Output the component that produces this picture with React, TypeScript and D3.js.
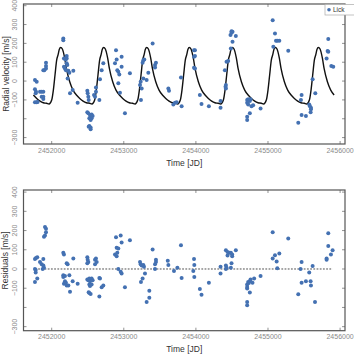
import React, { useEffect, useRef } from "react";
import * as d3 from "d3";

// radial velocities (Lick)
const rvTimes = [
  2451768, 2451792, 2451768, 2451782, 2451778, 2451768, 2451792, 2451805, 2451838, 2451861,
  2451884, 2451861, 2451884, 2451884, 2451921, 2451921, 2451921, 2451898, 2451884, 2452161,
  2452161, 2452170, 2452184, 2452194, 2452208, 2452170, 2452184, 2452198, 2452208, 2452217,
  2452231, 2452245, 2452208, 2452221, 2452254, 2452291, 2452300, 2452360, 2452494, 2452499,
  2452508, 2452513, 2452494, 2452508, 2452531, 2452540, 2452554, 2452568, 2452522, 2452540,
  2452554, 2452522, 2452540, 2452513, 2452540, 2452587, 2452601, 2452614, 2452614, 2452670,
  2452661, 2452693, 2452716, 2452878, 2452901, 2452892, 2452910, 2452924, 2452938, 2452924,
  2452947, 2452970, 2452970, 2453016, 2453085, 2453225, 2453234, 2453238, 2453248, 2453261,
  2453271, 2453284, 2453271, 2453317, 2453340, 2453400, 2453433, 2453446, 2453433, 2453618,
  2453627, 2453687, 2453710, 2453733, 2453802, 2453793, 2453974, 2453987, 2453974, 2453987,
  2453974, 2453987, 2454055, 2454078, 2454180, 2454342, 2454342, 2454402, 2454416, 2454416,
  2454411, 2454425, 2454448, 2454480, 2454494, 2454508, 2454494, 2454508, 2454485, 2454554,
  2454711, 2454725, 2454739, 2454748, 2454758, 2454711, 2454725, 2454711, 2454711, 2454748,
  2454771, 2454794, 2454897, 2455065, 2455097, 2455111, 2455129, 2455157, 2455074, 2455281,
  2455420, 2455466, 2455457, 2455466, 2455526, 2455572, 2455582, 2455596, 2455596, 2455591,
  2455619, 2455656, 2455813, 2455836, 2455827, 2455836, 2455878, 2455905,
];
const rvValues = [
  5, -4, -44, -57, -65, -113, -113, -111, -57, -57,
  -57, -83, -83, -95, 97, 80, 67, 58, 58, 226,
  217, 120, 120, 115, 120, 76, 67, 58, 94, 85,
  55, 44, 133, 14, -65, -48, 55, -115, -51, -65,
  -83, -101, -166, -171, -180, -189, -177, -186, -198, -207,
  -198, -239, -247, -242, -256, -74, -83, -57, -34, 9,
  -101, 58, 94, 94, 115, 164, 58, 49, 35, -12,
  -62, 129, 76, -171, 41, -21, -4, -101, -39, 97,
  111, 115, 14, 5, 44, 200, 85, 97, 72, -39,
  -51, -124, -115, -113, -133, 19, 164, 164, 129, 133,
  71, 67, -74, -122, -133, -142, -106, 58, -21, -39,
  -30, 102, 106, 244, 256, 262, 265, 209, 173, 239,
  -101, -97, -101, -106, -97, -115, -124, -189, -207, -171,
  -133, -129, -145, 323, 253, 214, 214, 214, 182, 161,
  -221, -74, -101, -180, -186, -124, -133, -141, -150, -166,
  9, -65, 120, 223, 159, 155, 80, 76,
];

// residuals
const resTimes = [
  2451768, 2451782, 2451800, 2451768, 2451778, 2451778, 2451768, 2451800, 2451838, 2451861,
  2451884, 2451884, 2451893, 2451875, 2451907, 2451921, 2451921, 2451907, 2451893, 2452161,
  2452170, 2452161, 2452161, 2452184, 2452170, 2452184, 2452198, 2452208, 2452221, 2452208,
  2452231, 2452254, 2452245, 2452291, 2452300, 2452360, 2452494, 2452499, 2452508, 2452494,
  2452494, 2452508, 2452522, 2452531, 2452540, 2452554, 2452568, 2452522, 2452531, 2452554,
  2452522, 2452540, 2452513, 2452601, 2452614, 2452601, 2452624, 2452661, 2452670, 2452661,
  2452693, 2452716, 2452878, 2452901, 2452892, 2452901, 2452924, 2452910, 2452924, 2452957,
  2452970, 2452957, 2452970, 2453016, 2453085, 2453225, 2453234, 2453248, 2453271, 2453280,
  2453238, 2453261, 2453294, 2453354, 2453317, 2453354, 2453400, 2453433, 2453433, 2453446,
  2453446, 2453610, 2453618, 2453696, 2453743, 2453793, 2453802, 2453974, 2453978, 2453964,
  2453978, 2454055, 2454078, 2454180, 2454342, 2454342, 2454416, 2454416, 2454425, 2454416,
  2454439, 2454462, 2454485, 2454503, 2454503, 2454439, 2454494, 2454485, 2454554, 2454711,
  2454711, 2454725, 2454748, 2454758, 2454734, 2454711, 2454711, 2454711, 2454748, 2454785,
  2454808, 2454897, 2455065, 2455065, 2455097, 2455120, 2455129, 2455157, 2455281, 2455420,
  2455452, 2455466, 2455466, 2455526, 2455572, 2455591, 2455596, 2455619, 2455652, 2455813,
  2455813, 2455836, 2455836, 2455873, 2455896,
];
const resValues = [
  52, 57, 61, 0, -5, -18, -68, -50, 36, 25,
  52, 18, 7, 0, 218, 209, 191, 174, 168, 84,
  75, -32, -41, -36, -77, -64, -72, 30, 25, -86,
  -86, -118, -32, -64, 54, -77, 61, 48, 36, 30,
  -55, -59, -50, -64, -55, -50, -59, -80, -89, -80,
  -125, -130, -121, 48, 54, 25, 36, -47, -50, -143,
  -95, -86, 75, 66, 165, 111, 107, 84, 0, -14,
  -23, 174, 138, -95, 150, 36, 25, 18, 21, 12,
  -68, -50, -23, -113, -172, -149, 102, 0, 25, 48,
  36, 43, 21, -11, 7, 124, -47, 52, 21, -11,
  -41, -104, -134, -72, 12, -23, 18, 0, 7, 98,
  89, 84, 84, 75, 66, 70, 30, 7, 98, -80,
  -93, -68, -64, -54, -73, -102, -172, -188, -122, -72,
  -50, -36, 191, 54, 72, 39, 4, 81, 159, -131,
  0, 36, -72, -64, -18, -64, -86, 16, -172, 54,
  48, 186, 120, 75, 97,
];

// Keplerian model curve: times of maxima and one cycle's shape (days from maximum, m/s)
const modelPeakTimes = [2451528, 2452125, 2452721, 2453318, 2453909, 2454506, 2455102, 2455699];
const modelShapeDays = [-162, -125, -102, -79, -56, -36, -20, 0, 23, 56, 79, 125, 171, 218, 264, 310, 356, 402];
const modelShapeValues = [-122, -101, -48, 32, 111, 140, 168, 178, 170, 120, 67, -4, -48, -74, -92, -106, -115, -118];
const modelStart = 2451745;
const modelEnd = 2455920;

const xTicks = [2452000, 2453000, 2454000, 2455000, 2456000];
const yTicks = [400, 300, 200, 100, 0, -100, -200, -300];
const yTickLabels = ["400", "300", "200", "100", "0", "\u2212100", "", "\u2212300"];

const FONT = "'Liberation Sans', Arial, sans-serif";
const BLUE = "#4471b2";

export default function App() {
  const svgRef = useRef<SVGSVGElement>(null);

  useEffect(() => {
    const svg = d3.select(svgRef.current);
    svg.selectAll("*").remove();

    const left = 23.5;
    const right = 345;
    const x = d3.scaleLinear().domain([2451609, 2456068]).range([left, right]);

    const drawPanel = (
      top: number,
      bottom: number,
      domain: [number, number],
      ylabel: string
    ) => {
      const y = d3.scaleLinear().domain(domain).range([bottom, top]);
      const g = svg.append("g");

      // inward ticks on all four sides
      const tickCol = "#777";
      xTicks.forEach((t) => {
        g.append("line").attr("x1", x(t)).attr("x2", x(t)).attr("y1", bottom).attr("y2", bottom - 3)
          .attr("stroke", tickCol).attr("stroke-width", 0.8);
        g.append("line").attr("x1", x(t)).attr("x2", x(t)).attr("y1", top).attr("y2", top + 3)
          .attr("stroke", tickCol).attr("stroke-width", 0.8);
        g.append("text").attr("x", x(t)).attr("y", bottom + 8.5).attr("text-anchor", "middle")
          .attr("font-family", FONT).attr("font-size", 7).attr("fill", "#8a8a8a").text(String(t));
      });
      yTicks.forEach((v, i) => {
        g.append("line").attr("x1", left).attr("x2", left + 3).attr("y1", y(v)).attr("y2", y(v))
          .attr("stroke", tickCol).attr("stroke-width", 0.8);
        g.append("line").attr("x1", right).attr("x2", right - 3).attr("y1", y(v)).attr("y2", y(v))
          .attr("stroke", tickCol).attr("stroke-width", 0.8);
        if (yTickLabels[i]) {
          g.append("text").attr("x", 15).attr("y", y(v))
            .attr("transform", `rotate(-90, 15, ${y(v)})`)
            .attr("text-anchor", "middle").attr("dominant-baseline", "central")
            .attr("font-family", FONT).attr("font-size", 7).attr("fill", "#8a8a8a")
            .text(yTickLabels[i]);
        }
      });

      g.append("rect").attr("x", left).attr("y", top).attr("width", right - left)
        .attr("height", bottom - top).attr("fill", "none").attr("stroke", "#555")
        .attr("stroke-width", 1.2);

      g.append("text").attr("x", 5.5).attr("y", (top + bottom) / 2)
        .attr("transform", `rotate(-90, 5.5, ${(top + bottom) / 2})`)
        .attr("text-anchor", "middle").attr("dominant-baseline", "central")
        .attr("font-family", FONT).attr("font-size", 8.5).attr("fill", "#333").text(ylabel);

      g.append("text").attr("x", (left + right) / 2).attr("y", bottom + 21.5)
        .attr("text-anchor", "middle").attr("font-family", FONT).attr("font-size", 8.5)
        .attr("fill", "#333").text("Time [JD]");

      return { g, y };
    };

    // upper panel: radial velocities with model
    const upper = drawPanel(4, 144, [-334, 409], "Radial velocity [m/s]");
    const modelPts: [number, number][] = [];
    modelPeakTimes.forEach((p) => {
      modelShapeDays.forEach((d, i) => {
        const t = p + d;
        if (t >= modelStart && t <= modelEnd) modelPts.push([t, modelShapeValues[i]]);
      });
    });
    modelPts.sort((a, b) => a[0] - b[0]);
    const line = d3.line<[number, number]>()
      .x((d) => x(d[0]))
      .y((d) => upper.y(d[1]))
      .curve(d3.curveMonotoneX);
    upper.g.append("path").attr("d", line(modelPts)).attr("fill", "none")
      .attr("stroke", "#111").attr("stroke-width", 1.4);
    upper.g.selectAll("circle.rv").data(rvTimes).enter().append("circle")
      .attr("cx", (d) => x(d)).attr("cy", (_, i) => upper.y(rvValues[i]))
      .attr("r", 2).attr("fill", BLUE);

    // legend (clipped by the figure edge)
    upper.g.append("rect").attr("x", 325).attr("y", 4.5).attr("width", 40).attr("height", 10.5)
      .attr("fill", "#fff").attr("stroke", "#aaa").attr("stroke-width", 0.7);
    upper.g.append("circle").attr("cx", 329).attr("cy", 9.7).attr("r", 1.8).attr("fill", BLUE);
    upper.g.append("text").attr("x", 333).attr("y", 12).attr("font-family", FONT)
      .attr("font-size", 6.5).attr("fill", "#333").text("Lick");

    // lower panel: residuals
    const lower = drawPanel(190, 330.7, [-321, 411], "Residuals [m/s]");
    lower.g.append("line").attr("x1", x(d3.min(resTimes)!)).attr("x2", x(d3.max(resTimes)!))
      .attr("y1", lower.y(0)).attr("y2", lower.y(0)).attr("stroke", "#222")
      .attr("stroke-width", 0.8).attr("stroke-dasharray", "1.8,1.4");
    lower.g.selectAll("circle.res").data(resTimes).enter().append("circle")
      .attr("cx", (d) => x(d)).attr("cy", (_, i) => lower.y(resValues[i]))
      .attr("r", 2).attr("fill", BLUE);
  }, []);

  return (
    <svg
      ref={svgRef}
      width={354}
      height={355}
      style={{ position: "absolute", left: 0, top: 0, background: "#fff" }}
    />
  );
}
